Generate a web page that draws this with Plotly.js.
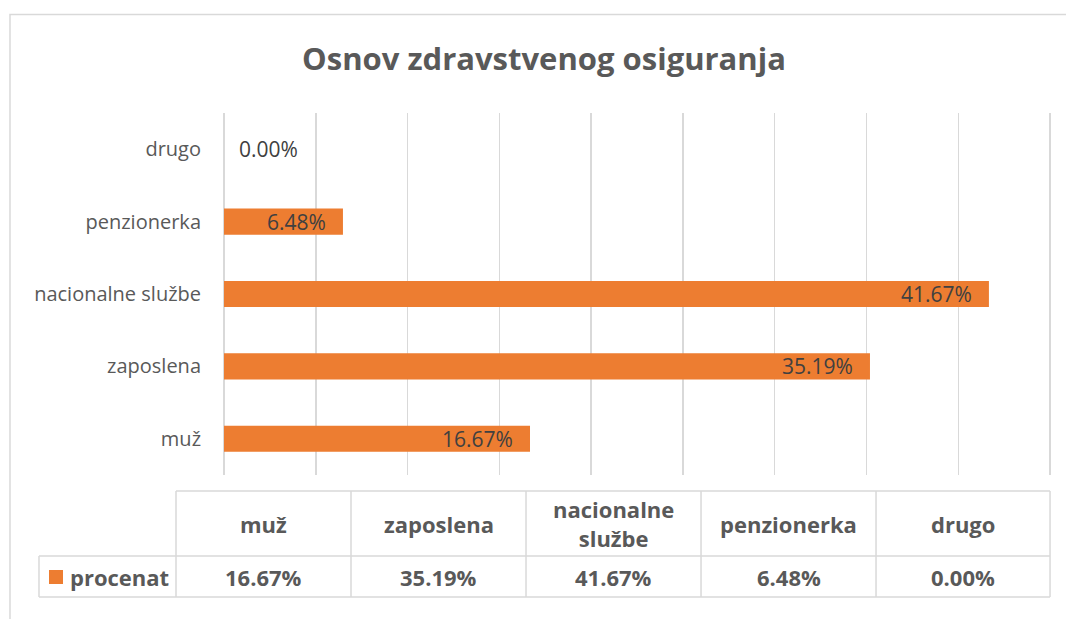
<!DOCTYPE html>
<html>
<head>
<meta charset="utf-8">
<script src="https://cdn.plot.ly/plotly-3.0.1.min.js"></script>
<style>html,body{margin:0;padding:0;background:#fff;}#chart{width:1066px;height:619px;}</style>
</head>
<body>
<div id="chart"></div>
<script>
// ---- data ----
const chartTitle = 'Osnov zdravstvenog osiguranja';
const categories = ['muž', 'zaposlena', 'nacionalne službe', 'penzionerka', 'drugo'];
const values = [16.67, 35.19, 41.67, 6.48, 0.00];
const tableHeaders = ['muž', 'zaposlena', 'nacionalne<br>službe', 'penzionerka', 'drugo'];
const seriesName = 'procenat';
const xTicks = [0, 5, 10, 15, 20, 25, 30, 35, 40, 45];
const xMax = 45;

// ---- layout helpers ----
const W = 1066, H = 619;
const xRangeMax = xMax * 1.006;           // small headroom so the 45% gridline is drawn
const plotLeft = 224, plot45 = 1050;
const PW = (plot45 - plotLeft) * xRangeMax / xMax;
const M = {l: plotLeft, r: W - plotLeft - PW, t: 113, b: 144};
const PH = H - M.t - M.b;
const px = x => (x - M.l) / PW;
const py = y => (H - M.b - y) / PH;
const fmt = v => v.toFixed(2) + '%';
const orange = '#ED7D31';
const grid = '#D9D9D9';
const txt = '#595959';

const trace = {
  type: 'bar',
  orientation: 'h',
  y: categories,
  x: values,
  marker: {color: orange, line: {width: 0}},
  hoverinfo: 'skip',
  showlegend: false
};

const annotations = [];
// data labels
values.forEach((v, i) => {
  annotations.push({
    xref: 'x', yref: 'y', x: v, y: categories[i],
    text: fmt(v), showarrow: false,
    xanchor: v > 0 ? 'right' : 'left', xshift: v > 0 ? -15 : 13,
    font: {family: 'Open Sans', size: 21, color: '#404040'}
  });
});

// data table geometry
const colX = [39, 176, 351, 526, 701, 876, 1050];
const rowY = [491, 556, 597];
const shapes = [];
const line = {color: grid, width: 1.5};
// outer chart border
shapes.push({type: 'rect', xref: 'paper', yref: 'paper', x0: px(10), x1: px(1075), y0: py(14.5), y1: py(630), line: line, layer: 'below'});
// table lines
shapes.push({type: 'line', xref: 'paper', yref: 'paper', x0: px(colX[1]), x1: px(colX[6]), y0: py(rowY[0]), y1: py(rowY[0]), line: line});
shapes.push({type: 'line', xref: 'paper', yref: 'paper', x0: px(colX[0]), x1: px(colX[6]), y0: py(rowY[1]), y1: py(rowY[1]), line: line});
shapes.push({type: 'line', xref: 'paper', yref: 'paper', x0: px(colX[0]), x1: px(colX[6]), y0: py(rowY[2]), y1: py(rowY[2]), line: line});
shapes.push({type: 'line', xref: 'paper', yref: 'paper', x0: px(colX[0]), x1: px(colX[0]), y0: py(rowY[1]), y1: py(rowY[2]), line: line});
for (let c = 1; c < colX.length; c++) {
  shapes.push({type: 'line', xref: 'paper', yref: 'paper', x0: px(colX[c]), x1: px(colX[c]), y0: py(rowY[0]), y1: py(rowY[2]), line: line});
}
// legend key
shapes.push({type: 'rect', xref: 'paper', yref: 'paper', x0: px(49), x1: px(63), y0: py(584), y1: py(570), fillcolor: orange, line: {width: 0}});

const tFont = {family: 'Open Sans', size: 22, color: txt};
tableHeaders.forEach((h, i) => {
  const cx = (colX[i + 1] + colX[i + 2]) / 2;
  annotations.push({xref: 'paper', yref: 'paper', x: px(cx), y: py((rowY[0] + rowY[1]) / 2),
    text: '<b>' + h + '</b>', showarrow: false, xanchor: 'center', yanchor: 'middle', font: tFont});
  annotations.push({xref: 'paper', yref: 'paper', x: px(cx), y: py((rowY[1] + rowY[2]) / 2),
    text: '<b>' + fmt(values[i]) + '</b>', showarrow: false, xanchor: 'center', yanchor: 'middle', font: tFont});
});
annotations.push({xref: 'paper', yref: 'paper', x: px(68), y: py((rowY[1] + rowY[2]) / 2),
  text: '<b>' + seriesName + '</b>', showarrow: false, xanchor: 'left', yanchor: 'middle', font: tFont});

const layout = {
  width: W, height: H,
  margin: M,
  paper_bgcolor: '#fff', plot_bgcolor: '#fff',
  font: {family: 'Open Sans', color: txt},
  title: {
    text: '<b>' + chartTitle + '</b>',
    xref: 'container', yref: 'container', x: 544 / W, y: 1 - 59 / H,
    xanchor: 'center', yanchor: 'middle',
    font: {family: 'Open Sans', size: 31, color: txt}
  },
  bargap: 0.64,
  xaxis: {
    range: [0, xRangeMax], tickvals: xTicks, showticklabels: false,
    showgrid: true, gridcolor: grid, gridwidth: 1.5,
    zeroline: true, zerolinecolor: grid, zerolinewidth: 1.5,
    showline: false, fixedrange: true
  },
  yaxis: {
    type: 'category', categoryorder: 'array', categoryarray: categories,
    showgrid: false, zeroline: false, showline: false, ticks: '',
    ticklabelstandoff: 22,
    tickfont: {family: 'Open Sans', size: 20, color: txt}, fixedrange: true
  },
  shapes: shapes,
  annotations: annotations
};

Plotly.newPlot('chart', [trace], layout, {displayModeBar: false, staticPlot: true});
</script>
</body>
</html>
